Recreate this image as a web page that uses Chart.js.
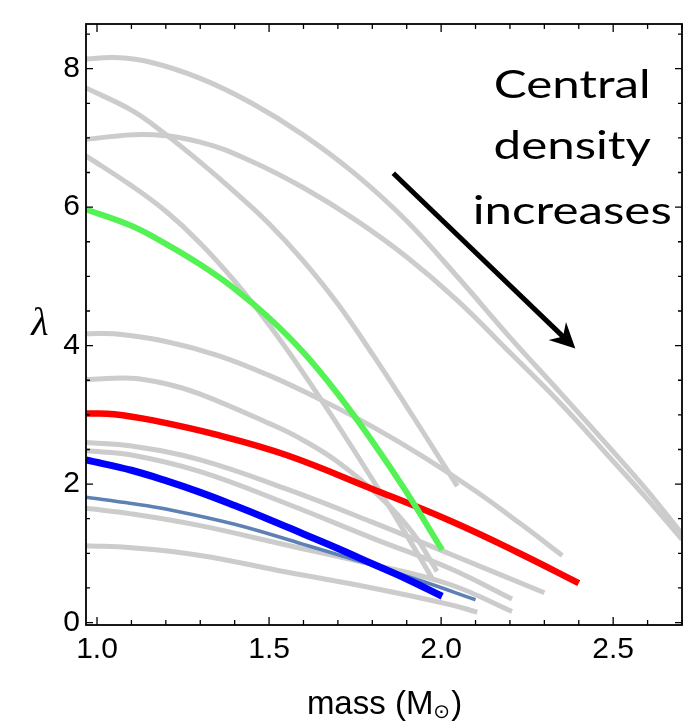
<!DOCTYPE html>
<html>
<head>
<meta charset="utf-8">
<script src="https://cdn.jsdelivr.net/npm/chart.js@4/dist/chart.umd.min.js"></script>
<style>
html, body { margin: 0; padding: 0; background: #fff; }
#wrap { width: 698px; height: 724px; }
</style>
</head>
<body>
<div id="wrap"><canvas id="lambdaChart" width="698" height="724"></canvas></div>
<script>
// [mass (Msun), lambda]
const greenCurve = [[0.968,5.97],[1.1,5.73],[1.2,5.47],[1.3,5.17],[1.4,4.82],[1.5,4.40],[1.6,3.90],[1.7,3.30],[1.8,2.62],[1.9,1.88],[2.003,1.05]];
const redCurve   = [[0.968,3.02],[1.05,3.01],[1.163,2.92],[1.35,2.71],[1.55,2.42],[1.80,1.93],[2.026,1.47],[2.22,1.02],[2.40,0.57]];
const blueCurve  = [[0.968,2.35],[1.1,2.20],[1.2,2.05],[1.3,1.88],[1.4,1.69],[1.5,1.49],[1.6,1.28],[1.7,1.07],[1.8,0.85],[1.9,0.63],[2.003,0.38]];
const steelCurve = [[0.968,1.81],[1.1,1.72],[1.2,1.64],[1.4,1.42],[1.6,1.13],[1.8,0.83],[1.95,0.59],[2.10,0.33]];

// the grey family
const grayA = [[0.968,8.14],[1.05,8.16],[1.15,8.10],[1.3,7.86],[1.45,7.50],[1.6,7.04],[1.75,6.48],[1.9,5.80],[2.05,4.98],[2.2,4.12],[2.35,3.30],[2.5,2.47],[2.6,1.90],[2.7,1.28]];
const grayB = [[0.968,7.72],[1.1,7.40],[1.2,7.05],[1.3,6.65],[1.4,6.22],[1.5,5.76],[1.6,5.22],[1.7,4.60],[1.8,3.88],[1.9,3.12],[2.0,2.34],[2.047,1.97]];
const grayC = [[0.968,6.98],[1.14,7.05],[1.3,6.94],[1.45,6.66],[1.6,6.28],[1.75,5.82],[1.9,5.28],[2.05,4.64],[2.2,3.90],[2.35,3.15],[2.5,2.33],[2.6,1.78],[2.7,1.20]];
const grayE = [[0.968,6.74],[1.1,6.31],[1.2,5.94],[1.3,5.48],[1.4,4.93],[1.5,4.30],[1.6,3.60],[1.7,2.85],[1.8,2.07],[1.9,1.26],[1.974,0.64]];
const grayD = [[0.968,4.17],[1.05,4.17],[1.2,4.06],[1.35,3.86],[1.5,3.57],[1.65,3.22],[1.8,2.83],[1.95,2.39],[2.1,1.90],[2.23,1.43],[2.352,0.97]];
const grayF = [[0.968,3.51],[1.1,3.53],[1.2,3.45],[1.3,3.30],[1.503,2.87],[1.59,2.66],[1.70,2.32],[1.83,1.78],[1.92,1.28],[1.988,0.74]];
const grayG1 = [[0.968,2.60],[1.1,2.55],[1.3,2.35],[1.55,1.93],[1.8,1.45],[2.026,0.99],[2.30,0.43]];
const grayG2 = [[0.968,2.48],[1.1,2.42],[1.3,2.18],[1.55,1.72],[1.8,1.22],[2.026,0.78],[2.206,0.34]];
const grayI = [[0.968,1.65],[1.1,1.57],[1.3,1.40],[1.55,1.12],[1.8,0.84],[2.026,0.55],[2.206,0.16]];
const grayJ = [[0.968,1.11],[1.1,1.08],[1.3,0.97],[1.55,0.73],[1.8,0.50],[2.026,0.26],[2.105,0.15]];

const xTickValues = [1.0, 1.5, 2.0, 2.5];
const yTickValues = [0, 2, 4, 6, 8];
const noteLines = ["Central", "density", "increases"];

// annotation anchors (data coords)
const arrowTail = [1.861, 6.49];
const arrowHead = [2.39, 3.96];
const noteCenterMass = 2.381;

const GRAY = "#cccccc";
const tickFont = { family: '"Liberation Sans", Arial, sans-serif', size: 30 };

function line(points, color, width) {
	return {
		data: points.map(([x, y]) => ({x, y})),
		borderColor: color,
		borderWidth: width,
		pointRadius: 0,
		showLine: true,
		fill: false,
		tension: 0.4,
		borderCapStyle: "butt"
	};
}

const grays = [grayA, grayB, grayC, grayE, grayD, grayF, grayG1, grayG2, grayI, grayJ];

// first dataset is painted on top
const datasets = [
	line(greenCurve, "#55f255", 6),
	line(redCurve, "#ff0000", 6.5),
	line(blueCurve, "#0000ff", 7),
	line(steelCurve, "#5e81b5", 3.5),
	...grays.map(c => line(c, GRAY, 5))
];

const framePlugin = {
	id: "frame",
	afterDraw(chart) {
		const {ctx, chartArea: a, scales: {x, y}} = chart;
		ctx.save();
		ctx.strokeStyle = "#000";
		ctx.lineWidth = 1.3;
		ctx.beginPath();
		// mass ticks every 0.1, inward, top and bottom
		for (let i = 10; i <= 27; i++) {
			const v = i / 10;
			const px = x.getPixelForValue(v);
			const len = xTickValues.includes(v) ? 8 : 5;
			ctx.moveTo(px, a.bottom); ctx.lineTo(px, a.bottom - len);
			ctx.moveTo(px, a.top); ctx.lineTo(px, a.top + len);
		}
		// lambda ticks every 0.5, left and right
		for (let i = 0; i <= 17; i++) {
			const v = i / 2;
			const py = y.getPixelForValue(v);
			const len = i % 4 === 0 ? 7 : 4;
			ctx.moveTo(a.left, py); ctx.lineTo(a.left + len, py);
			ctx.moveTo(a.right, py); ctx.lineTo(a.right - len, py);
		}
		ctx.stroke();
		ctx.lineWidth = 1.8;
		ctx.strokeRect(a.left, a.top, a.right - a.left, a.bottom - a.top);
		ctx.restore();
	}
};

const notesPlugin = {
	id: "notes",
	afterDraw(chart) {
		const {ctx, chartArea: a, scales: {x, y}} = chart;
		ctx.save();
		ctx.fillStyle = "#000";
		ctx.strokeStyle = "#000";

		// y label
		ctx.font = 'italic 40px "Liberation Serif", "DejaVu Serif", serif';
		ctx.textAlign = "center";
		ctx.textBaseline = "alphabetic";
		ctx.fillText("λ", a.left - 46, (a.top + a.bottom) / 2 + 10);

		// x label: mass (M⊙) with subscript sun
		const big = '33px "Liberation Sans", Arial, sans-serif';
		const small = '20px "DejaVu Sans", sans-serif';
		const base = 714;
		ctx.font = big;
		const w1 = ctx.measureText("mass (M").width;
		const w3 = ctx.measureText(")").width;
		ctx.font = small;
		const w2 = ctx.measureText("⊙").width;
		let cx = (a.left + a.right) / 2 - (w1 + w2 + w3) / 2;
		ctx.textAlign = "left";
		ctx.font = big;
		ctx.fillText("mass (M", cx, base);
		ctx.font = small;
		ctx.fillText("⊙", cx + w1, base + 4);
		ctx.font = big;
		ctx.fillText(")", cx + w1 + w2 + 1, base);

		// note text, stretched a bit like the original
		ctx.font = '39px Lato, "Open Sans", sans-serif';
		const wInc = ctx.measureText(noteLines[2]).width;
		const sx = 199 / wInc;
		const nx = x.getPixelForValue(noteCenterMass);
		const baselines = [98, 159, 224];
		noteLines.forEach((t, i) => {
			ctx.save();
			ctx.translate(nx, baselines[i]);
			ctx.scale(sx, 1);
			ctx.textAlign = "center";
			ctx.fillText(t, 0, 0);
			ctx.restore();
		});

		// arrow
		const p0 = [x.getPixelForValue(arrowTail[0]), y.getPixelForValue(arrowTail[1])];
		const p1 = [x.getPixelForValue(arrowHead[0]), y.getPixelForValue(arrowHead[1])];
		const dx = p1[0] - p0[0], dy = p1[1] - p0[1];
		const L = Math.hypot(dx, dy), ux = dx / L, uy = dy / L;
		const nxv = -uy, nyv = ux;
		const headLen = 25, headHalf = 12.5, notch = 17;
		ctx.lineWidth = 5;
		ctx.lineCap = "butt";
		ctx.beginPath();
		ctx.moveTo(p0[0], p0[1]);
		ctx.lineTo(p1[0] - ux * notch, p1[1] - uy * notch);
		ctx.stroke();
		ctx.beginPath();
		ctx.moveTo(p1[0], p1[1]);
		ctx.lineTo(p1[0] - ux * headLen + nxv * headHalf, p1[1] - uy * headLen + nyv * headHalf);
		ctx.lineTo(p1[0] - ux * notch, p1[1] - uy * notch);
		ctx.lineTo(p1[0] - ux * headLen - nxv * headHalf, p1[1] - uy * headLen - nyv * headHalf);
		ctx.closePath();
		ctx.fill();
		ctx.restore();
	}
};

new Chart(document.getElementById("lambdaChart"), {
	type: "scatter",
	data: { datasets },
	options: {
		responsive: false,
		animation: false,
		devicePixelRatio: 1,
		events: [],
		layout: { padding: { top: 6, right: 16, left: 0, bottom: 0 } },
		plugins: { legend: { display: false }, tooltip: { enabled: false } },
		scales: {
			x: {
				type: "linear",
				min: 0.968,
				max: 2.70,
				grid: { display: false, drawTicks: false },
				border: { display: false },
				afterBuildTicks: axis => { axis.ticks = xTickValues.map(v => ({value: v})); },
				afterFit: scale => { scale.height = 99; },
				ticks: {
					color: "#000",
					font: tickFont,
					padding: 7,
					maxRotation: 0,
					callback: v => v.toFixed(1)
				}
			},
			y: {
				type: "linear",
				min: -0.035,
				max: 8.645,
				grid: { display: false, drawTicks: false },
				border: { display: false },
				afterBuildTicks: axis => { axis.ticks = yTickValues.map(v => ({value: v})); },
				afterFit: scale => { scale.width = 86; },
				ticks: {
					color: "#000",
					font: tickFont,
					padding: 6,
					callback: v => String(v)
				}
			}
		}
	},
	plugins: [framePlugin, notesPlugin]
});
</script>
</body>
</html>
